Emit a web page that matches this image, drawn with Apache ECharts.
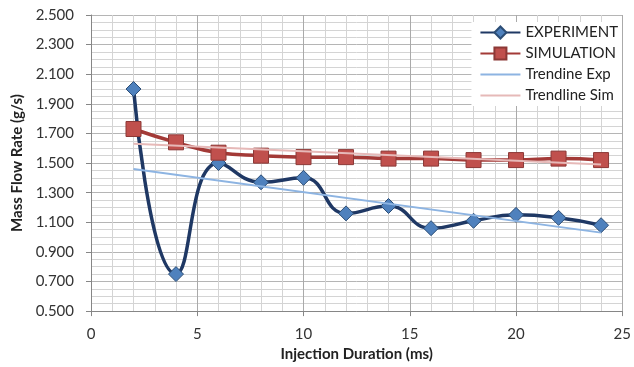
<!DOCTYPE html>
<html>
<head>
<meta charset="utf-8">
<script src="https://cdn.jsdelivr.net/npm/echarts@6/dist/echarts.min.js"></script>
<style>
  html, body { margin: 0; padding: 0; background: #fff; }
  #chart { width: 634px; height: 367px; }
</style>
</head>
<body>
<div id="chart"></div>
<script>
// injection duration (ms)
const durations = [2, 4, 6, 8, 10, 12, 14, 16, 18, 20, 22, 24]
const experiment = [2.00, 0.75, 1.50, 1.37, 1.40, 1.16, 1.21, 1.06, 1.11, 1.15, 1.13, 1.08]
const simulation = [1.73, 1.64, 1.57, 1.55, 1.54, 1.54, 1.53, 1.53, 1.52, 1.52, 1.53, 1.52]
// trendline end points
const trendExp = [[2, 1.46], [24, 1.03]]
const trendSim = [[2, 1.63], [24, 1.49]]

const labelFont = 'Lato, "Liberation Sans", sans-serif'

const pairs = (xs, ys) => xs.map((x, i) => [x, ys[i]])

const chart = echarts.init(document.getElementById('chart'))

const option = {
  animation: false,
  grid: { left: 91, right: 7, top: 15, bottom: 54 },
  legend: {
    right: 12,
    top: 22,
    orient: 'vertical',
    backgroundColor: '#fff',
    padding: [3, 4, 3, 8],
    itemGap: 6,
    itemWidth: 40,
    itemHeight: 15,
    textStyle: { color: '#222', fontSize: 15, fontFamily: labelFont },
    data: [
      'EXPERIMENT',
      'SIMULATION',
      { name: 'Trendine Exp', itemStyle: { opacity: 0 } },
      { name: 'Trendline Sim', itemStyle: { opacity: 0 } }
    ]
  },
  xAxis: {
    type: 'value',
    min: 0,
    max: 25,
    interval: 5,
    name: 'Injection Duration (ms)',
    nameLocation: 'middle',
    nameGap: 32,
    nameTextStyle: { color: '#222', fontSize: 15, fontWeight: 'bold', fontFamily: labelFont },
    axisLine: { lineStyle: { color: '#868686' } },
    axisTick: { show: true, length: 5, lineStyle: { color: '#868686' } },
    axisLabel: { color: '#333', fontSize: 15, margin: 16, fontFamily: labelFont },
    splitLine: { show: true, lineStyle: { color: '#aaaaaa' } },
    minorTick: { show: false, splitNumber: 5 },
    minorSplitLine: { show: true, lineStyle: { color: '#d4d4d4' } }
  },
  yAxis: {
    type: 'value',
    min: 0.5,
    max: 2.5,
    interval: 0.2,
    name: 'Mass Flow Rate (g/s)',
    nameLocation: 'middle',
    nameGap: 65,
    nameTextStyle: { color: '#222', fontSize: 15, fontWeight: 'bold', fontFamily: labelFont },
    axisLine: { show: true, lineStyle: { color: '#868686' } },
    axisTick: { show: true, length: 5, lineStyle: { color: '#868686' } },
    axisLabel: {
      color: '#333',
      fontSize: 15,
      margin: 17,
      fontFamily: labelFont,
      formatter: v => v.toFixed(3)
    },
    splitLine: { show: true, lineStyle: { color: '#b5b5b5' } },
    minorTick: { show: false, splitNumber: 4 },
    minorSplitLine: { show: true, lineStyle: { color: '#d4d4d4' } }
  },
  series: [
    {
      name: 'EXPERIMENT',
      type: 'line',
      data: pairs(durations, experiment),
      smooth: 0.5,
      symbol: 'diamond',
      symbolSize: 15,
      lineStyle: { color: '#1f3864', width: 3.5 },
      itemStyle: { color: '#4f81bd', borderColor: '#2c4d75', borderWidth: 1 },
      z: 3
    },
    {
      name: 'SIMULATION',
      type: 'line',
      data: pairs(durations, simulation),
      smooth: 0.5,
      symbol: 'rect',
      symbolSize: 15,
      lineStyle: { color: '#a33a37', width: 3.5 },
      itemStyle: { color: '#c0504d', borderColor: '#8c3836', borderWidth: 1 },
      z: 4
    },
    {
      name: 'Trendine Exp',
      type: 'line',
      data: trendExp,
      showSymbol: false,
      symbol: 'none',
      lineStyle: { color: '#8db4e2', width: 2 },
      itemStyle: { color: '#8db4e2' },
      z: 5
    },
    {
      name: 'Trendline Sim',
      type: 'line',
      data: trendSim,
      showSymbol: false,
      symbol: 'none',
      lineStyle: { color: '#e6b9b8', width: 2 },
      itemStyle: { color: '#e6b9b8' },
      z: 5
    }
  ]
}

chart.setOption(option)
</script>
</body>
</html>
